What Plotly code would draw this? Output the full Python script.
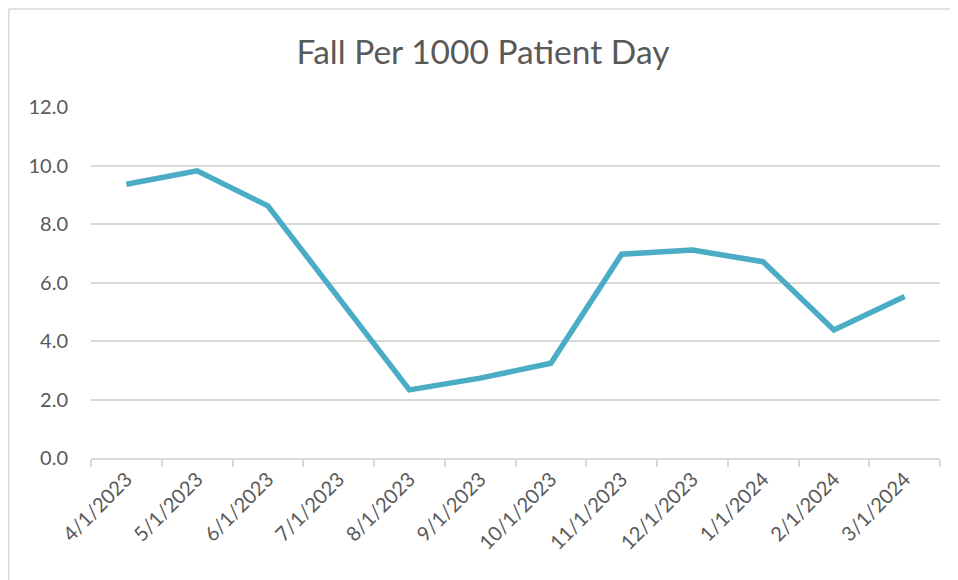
import plotly.graph_objects as go

months = ["4/1/2023", "5/1/2023", "6/1/2023", "7/1/2023", "8/1/2023", "9/1/2023",
          "10/1/2023", "11/1/2023", "12/1/2023", "1/1/2024", "2/1/2024", "3/1/2024"]
falls_per_1000 = [9.36, 9.82, 8.62, 5.48, 2.33, 2.73, 3.24, 6.97, 7.11, 6.71, 4.38, 5.52]
y_ticks = [0, 2, 4, 6, 8, 10, 12]

FONT = "Lato, 'Open Sans', sans-serif"
TXT = "#595959"
GRID = "#d9d9d9"

# the page body adds an 8px offset, so the figure is sized to fill the rest
W, H = 950, 572
L, R, T, B = 83, 18, 99, 122
PW, PH = W - L - R, H - T - B

fig = go.Figure()
fig.add_trace(go.Scatter(
    x=months, y=falls_per_1000, mode="lines",
    line=dict(color="#4BACC6", width=5.5),
    hoverinfo="x+y", showlegend=False,
))

bx = (0.75 - L) / PW
by = 1 + (T - 1) / PH
fig.update_layout(
    width=W, height=H,
    margin=dict(l=L, r=R, t=T, b=B),
    paper_bgcolor="white", plot_bgcolor="white",
    font=dict(family=FONT, color=TXT, size=20),
    title=dict(text="Fall Per 1000 Patient Day", x=0.5, xanchor="center",
               y=1 - 44 / H, yanchor="middle",
               font=dict(family=FONT, size=33.5, color=TXT)),
    xaxis=dict(type="category", tickangle=-45, showgrid=False,
               showline=True, linecolor=GRID, linewidth=1.5,
               ticks="outside", tickson="boundaries", ticklen=7, tickcolor=GRID, tickwidth=1.5,
               tickfont=dict(size=20, color=TXT), range=[-0.5, 11.5]),
    yaxis=dict(range=[0, 12], tickvals=y_ticks, tickformat=".1f",
               showgrid=True, gridcolor=GRID, gridwidth=1.5,
               zeroline=False, showline=False, ticks="", ticklabelstandoff=22,
               tickfont=dict(size=20, color=TXT)),
    shapes=[
        dict(type="line", xref="paper", yref="paper", x0=bx, x1=bx, y0=-0.6, y1=by,
             line=dict(color=GRID, width=1.5), layer="below"),
        dict(type="line", xref="paper", yref="paper", x0=bx, x1=1.2, y0=by, y1=by,
             line=dict(color=GRID, width=1.5), layer="below"),
    ],
)

fig.write_html("out.html")
